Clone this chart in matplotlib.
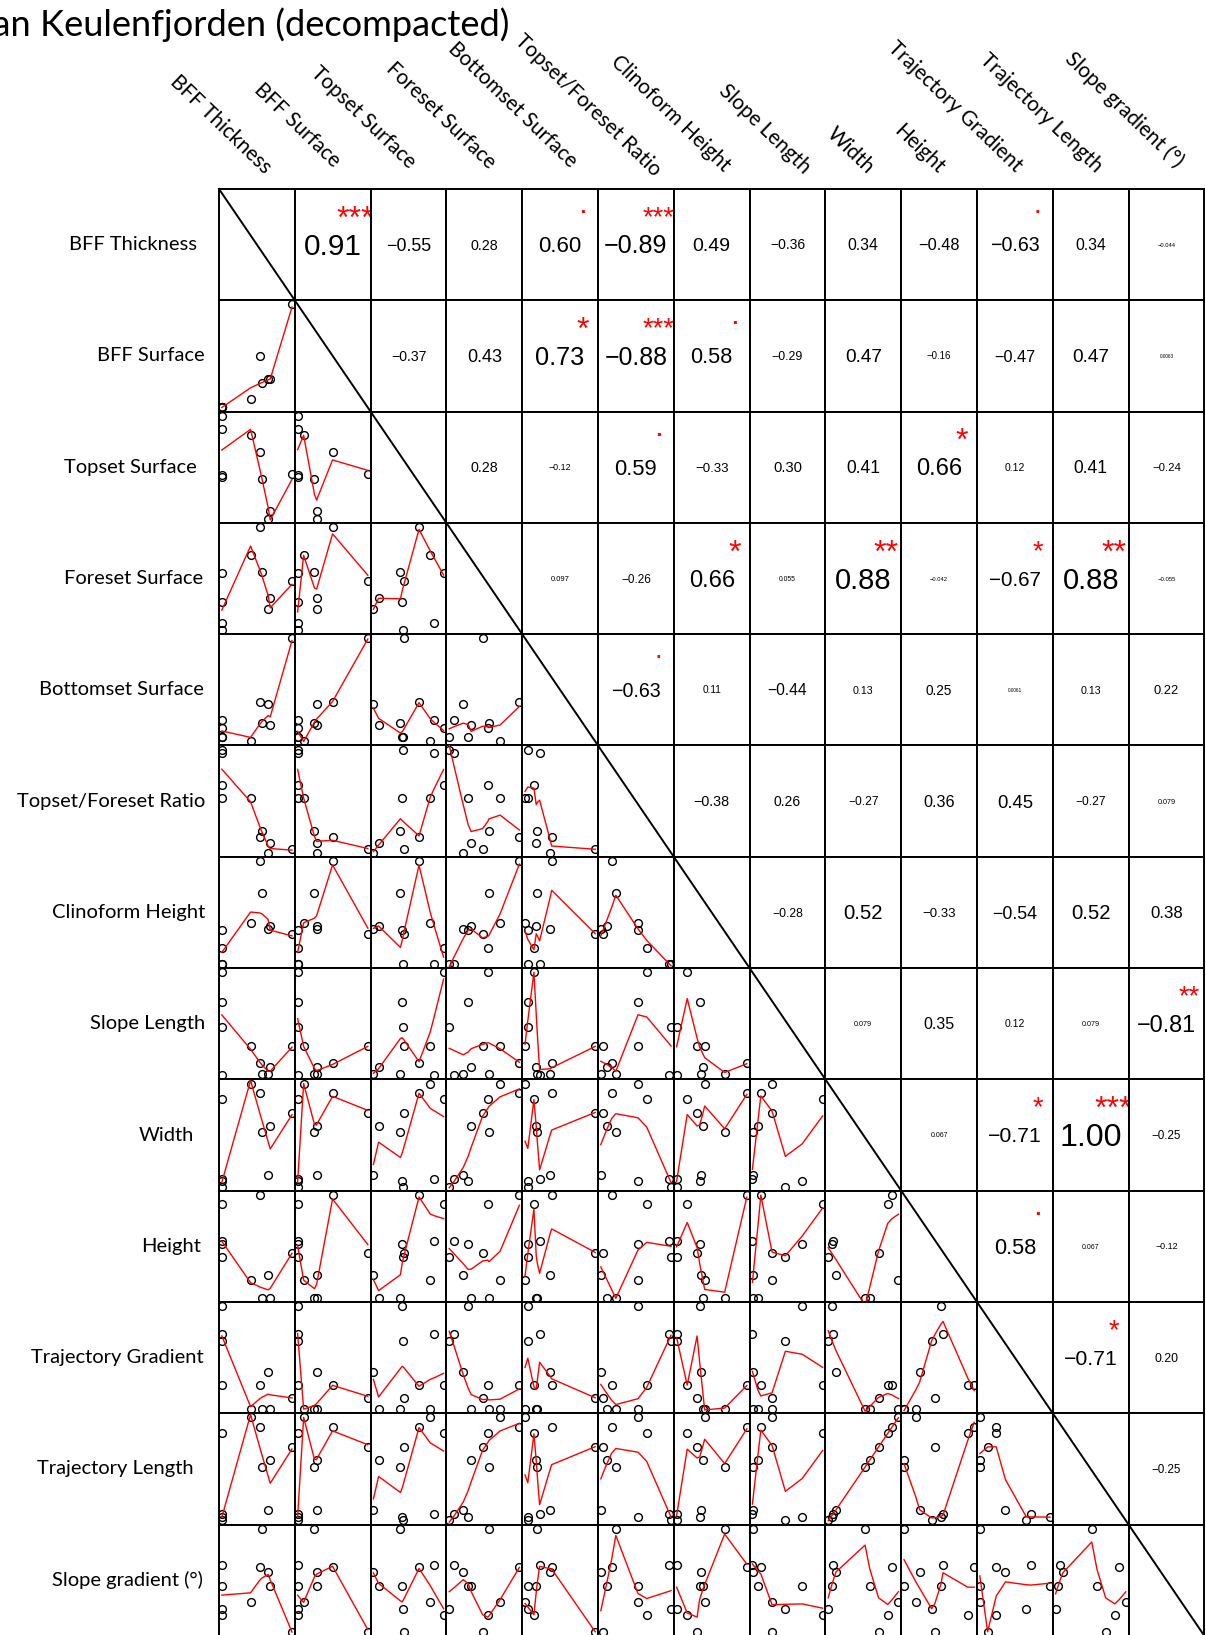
import numpy as np
import matplotlib
matplotlib.use("Agg")
import matplotlib.pyplot as plt
from matplotlib.lines import Line2D
from matplotlib.textpath import TextPath
from matplotlib.font_manager import FontProperties
import matplotlib.transforms as mtransforms

# ---------------- data (normalised values, 10 observations) ----------------
variables = ["BFF Thickness", "BFF Surface", "Topset Surface", "Foreset Surface",
             "Bottomset Surface", "Topset/Foreset Ratio", "Clinoform Height",
             "Slope Length", "Width", "Height", "Trajectory Gradient",
             "Trajectory Length", "Slope gradient (°)"]

bff_thickness     = [0.00, 0.00, 0.00, 0.00, 0.41, 0.54, 0.57, 0.66, 0.69, 1.00]
bff_surface       = [0.00, 0.00, 0.00, 0.00, 0.086, 0.498, 0.24, 0.275, 0.272, 1.00]
topset_surface    = [1.00, 0.87, 0.41, 0.42, 0.81, 0.65, 0.385, 0.00, 0.074, 0.43]
foreset_surface   = [0.55, 0.07, 0.27, 0.00, 0.725, 1.00, 0.566, 0.20, 0.313, 0.476]
bottomset_surface = [0.127, 0.208, 0.04, 0.04, 0.00, 0.38, 0.176, 0.362, 0.16, 1.00]
tf_ratio          = [0.654, 0.97, 0.53, 1.00, 0.53, 0.155, 0.214, 0.00, 0.091, 0.033]
clinoform_height  = [0.15, 0.00, 0.325, 0.00, 0.397, 0.993, 0.68, 0.341, 0.37, 0.29]
slope_length      = [1.00, 0.00, 0.71, 0.47, 0.28, 0.12, 0.01, 0.01, 0.08, 0.28]
width             = [0.84, 0.07, 0.05, 0.00, 0.99, 0.90, 0.52, 0.11, 0.585, 0.71]
height            = [0.90, 0.55, 0.52, 0.39, 0.17, 0.99, 0.00, 0.22, 0.00, 0.435]
traj_gradient     = [0.23, 0.72, 0.985, 0.65, 0.00, 0.23, 0.00, 0.36, 0.00, 0.11]
traj_length       = [0.834, 0.06, 0.03, 0.00, 0.988, 0.893, 0.509, 0.102, 0.583, 0.705]
slope_gradient    = [0.16, 0.635, 0.44, 0.22, 0.28, 0.62, 0.98, 0.57, 0.44, 0.00]

series = [bff_thickness, bff_surface, topset_surface, foreset_surface,
          bottomset_surface, tf_ratio, clinoform_height, slope_length, width,
          height, traj_gradient, traj_length, slope_gradient]

# correlation coefficients shown in the upper triangle (row i, columns i+1..)
corr_text = [
    ["0.91", "−0.55", "0.28", "0.60", "−0.89", "0.49", "−0.36", "0.34", "−0.48", "−0.63", "0.34", "−0.044"],
    ["−0.37", "0.43", "0.73", "−0.88", "0.58", "−0.29", "0.47", "−0.16", "−0.47", "0.47", "0.0063"],
    ["0.28", "−0.12", "0.59", "−0.33", "0.30", "0.41", "0.66", "0.12", "0.41", "−0.24"],
    ["0.097", "−0.26", "0.66", "0.055", "0.88", "−0.042", "−0.67", "0.88", "−0.055"],
    ["−0.63", "0.11", "−0.44", "0.13", "0.25", "0.0061", "0.13", "0.22"],
    ["−0.38", "0.26", "−0.27", "0.36", "0.45", "−0.27", "0.079"],
    ["−0.28", "0.52", "−0.33", "−0.54", "0.52", "0.38"],
    ["0.079", "0.35", "0.12", "0.079", "−0.81"],
    ["0.067", "−0.71", "1.00", "−0.25"],
    ["0.58", "0.067", "−0.12"],
    ["−0.71", "0.20"],
    ["−0.25"],
]
corr_stars = [
    ["***", "", "", ".", "***", "", "", "", "", ".", "", ""],
    ["", "", "*", "***", ".", "", "", "", "", "", ""],
    ["", "", ".", "", "", "", "*", "", "", ""],
    ["", "", "*", "", "**", "", "*", "**", ""],
    [".", "", "", "", "", "", "", ""],
    ["", "", "", "", "", "", ""],
    ["", "", "", "", "", ""],
    ["", "", "", "", "**"],
    ["", "*", "***", ""],
    [".", "", ""],
    ["*", ""],
    [""],
]

title_text = "Van Keulenfjorden (decompacted)"

# ---------------- layout / style ----------------
W, H, DPI = 1206, 1635, 100
GRID_LEFT, GRID_TOP = 219.0, 189.0
CELL_W, CELL_H = 75.8, 111.3
LABEL_FONT = "Lato"
NUM_FONT = "Liberation Sans"
row_label_right = [197, 205, 197, 203, 204, 205, 205, 205, 194, 201, 204, 194, 203]
col_label_end = [(264, 175), (333, 168), (408, 169), (488, 170), (570, 168), (654, 177),
                 (723, 173), (803, 175), (867, 175), (937, 175), (1015, 173), (1095, 173),
                 (1176, 168)]
COL_ROT = -44

fig = plt.figure(figsize=(W / DPI, H / DPI), dpi=DPI)
renderer = fig.canvas.get_renderer()


def text_width(s, size, family):
    t = fig.text(0, 0, s, fontsize=size, family=family)
    w = t.get_window_extent(renderer=renderer).width
    t.remove()
    return w


def lowess_r(x, y, f=2.0 / 3.0, nsteps=3):
    """Port of R's clowess (stats::lowess)."""
    order = np.argsort(np.asarray(x, float), kind="stable")
    x = np.asarray(x, float)[order]
    y = np.asarray(y, float)[order]
    n = len(x)
    rng = x[-1] - x[0]
    delta = 0.01 * rng
    ns = max(2, min(n, int(f * n + 1e-7)))
    state = {"rw": np.ones(n)}
    ys = np.zeros(n)
    w = np.zeros(n)

    def lowest(xs, nleft, nright, userw):
        rw = state["rw"]
        h = max(xs - x[nleft], x[nright] - xs)
        h9, h1 = 0.999 * h, 0.001 * h
        a = 0.0
        j = nleft
        while j < n:
            w[j] = 0.0
            r = abs(x[j] - xs)
            if r <= h9:
                w[j] = 1.0 if r <= h1 else (1 - (r / h) ** 3) ** 3
                if userw:
                    w[j] *= rw[j]
                a += w[j]
            elif x[j] > xs:
                break
            j += 1
        nrt = j - 1
        if a <= 0:
            return None
        idx = list(range(nleft, nrt + 1))
        for k in idx:
            w[k] /= a
        if h > 0:
            a = sum(w[k] * x[k] for k in idx)
            b = xs - a
            c = sum(w[k] * (x[k] - a) ** 2 for k in idx)
            if np.sqrt(c) > 0.001 * rng:
                b /= c
                for k in idx:
                    w[k] *= (b * (x[k] - a) + 1.0)
        return sum(w[k] * y[k] for k in idx)

    it = 1
    while it <= nsteps + 1:
        nleft, nright, last, i = 0, ns - 1, -1, 0
        while True:
            if nright < n - 1:
                if x[i] - x[nleft] > x[nright + 1] - x[i]:
                    nleft += 1
                    nright += 1
                    continue
            val = lowest(x[i], nleft, nright, it > 1)
            ys[i] = y[i] if val is None else val
            if last < i - 1:
                denom = x[i] - x[last]
                for j in range(last + 1, i):
                    alpha = (x[j] - x[last]) / denom
                    ys[j] = alpha * ys[i] + (1 - alpha) * ys[last]
            last = i
            cut = x[last] + delta
            i = last + 1
            while i < n:
                if x[i] > cut:
                    break
                if x[i] == x[last]:
                    ys[i] = ys[last]
                    last = i
                i += 1
            i = max(last + 1, i - 1)
            if last >= n - 1:
                break
        res = y - ys
        sc = np.sum(np.abs(res)) / n
        if it > nsteps:
            break
        ar = np.sort(np.abs(res))
        m1 = n // 2
        cmad = 3.0 * (ar[m1] + ar[n - m1 - 1]) if n % 2 == 0 else 6.0 * ar[m1]
        if cmad < 1e-7 * sc:
            break
        r = np.abs(res)
        c9, c1 = 0.999 * cmad, 0.001 * cmad
        state["rw"] = np.where(r <= c1, 1.0,
                               np.where(r <= c9, (1 - (r / cmad) ** 2) ** 2, 0.0))
        it += 1
    return x, ys.copy()


# advance widths (em) used by R's strwidth (hyphen width for the sign)
ADV = {d: 0.556 for d in "0123456789"}
ADV["."] = 0.278
ADV["−"] = 0.333
num_fp = FontProperties(family=NUM_FONT)


def ink_center_y(s, size):
    ext = TextPath((0, 0), s, size=size, prop=num_fp).get_extents()
    return (ext.y0 + ext.y1) / 2.0


def centered_text(ax, x, y, s, size, color):
    cy = ink_center_y(s, size)
    tr = ax.transAxes + mtransforms.ScaledTranslation(0, -cy / 72.0, fig.dpi_scale_trans)
    ax.text(x, y, s, transform=tr, ha="center", va="baseline", fontsize=size,
            family=NUM_FONT, color=color, clip_on=True)


nvar = len(variables)
for i in range(nvar):
    for j in range(nvar):
        x0 = GRID_LEFT + j * CELL_W
        y1 = GRID_TOP + (i + 1) * CELL_H
        ax = fig.add_axes([x0 / W, 1 - y1 / H, CELL_W / W, CELL_H / H])
        ax.set_xticks([])
        ax.set_yticks([])
        for sp in ax.spines.values():
            sp.set_linewidth(1.4)
            sp.set_color("black")
        if i > j:
            xv = np.asarray(series[j], float)
            yv = np.asarray(series[i], float)
            xr = xv.max() - xv.min()
            yr = yv.max() - yv.min()
            ax.set_xlim(xv.min() - 0.04 * xr, xv.max() + 0.04 * xr)
            ax.set_ylim(yv.min() - 0.04 * yr, yv.max() + 0.04 * yr)
            ax.plot(xv, yv, "o", ms=5.6, mfc="none", mec="black", mew=1.0, zorder=2)
            lx, ly = lowess_r(xv, yv)
            ax.plot(lx, ly, color="red", lw=1.0, zorder=3)
        elif i < j:
            ax.set_xlim(0, 1)
            ax.set_ylim(0, 1)
            s = corr_text[i][j - i - 1]
            r = float(s.replace("−", "-"))
            em_w = sum(ADV[c] for c in s)
            base_px = 1.03 * 0.8 * CELL_W / em_w
            base_pt = base_px * 72.0 / DPI
            num_pt = base_pt * (abs(r) + 0.3) / 1.3
            centered_text(ax, 0.5, 0.5, s, num_pt, "black")
            st = corr_stars[i][j - i - 1]
            if st:
                centered_text(ax, 0.8, 0.8, st, base_pt, "red")

# diagonal line through the diagonal panels
gx0, gy0 = GRID_LEFT, GRID_TOP
gx1, gy1 = GRID_LEFT + nvar * CELL_W, GRID_TOP + nvar * CELL_H
fig.add_artist(Line2D([gx0 / W, gx1 / W], [1 - gy0 / H, 1 - gy1 / H],
                      transform=fig.transFigure, color="black", lw=1.4))

# labels
label_size = 12.0 * 188.0 / text_width("Topset/Foreset Ratio", 12.0, LABEL_FONT)
for i, name in enumerate(variables):
    yc = GRID_TOP + (i + 0.5) * CELL_H
    fig.text(row_label_right[i] / W, 1 - yc / H, name, ha="right", va="center",
             fontsize=label_size, family=LABEL_FONT, color="black")
for j, name in enumerate(variables):
    ex, ey = col_label_end[j]
    fig.text(ex / W, 1 - ey / H, name, ha="right", va="baseline", rotation=COL_ROT,
             rotation_mode="anchor", fontsize=label_size * 1.03, family=LABEL_FONT,
             color="black")

title_size = 20.0 * 471.0 / text_width("Keulenfjorden (decompacted)", 20.0, LABEL_FONT)
fig.text(509 / W, 1 - 36 / H, title_text, ha="right", va="baseline",
         fontsize=title_size, family=LABEL_FONT, color="black")

fig.savefig("out.png", dpi=DPI)
